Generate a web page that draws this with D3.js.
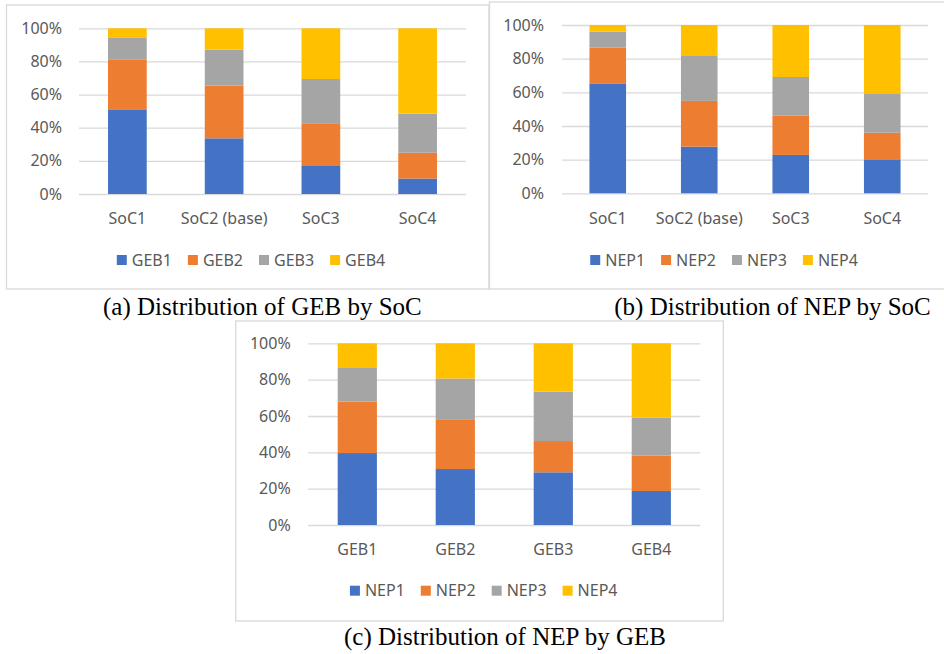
<!DOCTYPE html>
<html>
<head>
<meta charset="utf-8">
<script src="https://cdn.jsdelivr.net/npm/d3@7"></script>
<style>
  body { margin: 0; background: #fff; }
  svg { display: block; }
  .tick text { fill: #595959; font-family: "Noto Sans", sans-serif; font-size: 16px; }
  .legend text { fill: #595959; font-family: "Noto Sans", sans-serif; font-size: 16px; }
  .caption { fill: #000; font-family: "Liberation Serif", "Times New Roman", serif; font-size: 25px; }
</style>
</head>
<body>
<script>
// categories + series
var socCats = ["SoC1", "SoC2 (base)", "SoC3", "SoC4"];
var gebCats = ["GEB1", "GEB2", "GEB3", "GEB4"];
var gebKeys = ["GEB1", "GEB2", "GEB3", "GEB4"];
var nepKeys = ["NEP1", "NEP2", "NEP3", "NEP4"];
var yTicks = [0, 0.2, 0.4, 0.6, 0.8, 1];

// (a) share of GEB per SoC, %, one row per category
var gebBySoc = [
  [51.1, 30.2, 12.9, 5.8],
  [33.6, 31.8, 21.7, 12.9],
  [16.9, 25.8, 26.7, 30.6],
  [9.3, 15.6, 23.6, 51.5]
];
// (b) share of NEP per SoC
var nepBySoc = [
  [65.0, 21.5, 9.5, 4.0],
  [27.7, 27.2, 27.1, 18.0],
  [22.8, 23.5, 22.8, 30.9],
  [19.8, 16.2, 23.0, 41.0]
];
// (c) share of NEP per GEB
var nepByGeb = [
  [39.6, 28.3, 18.5, 13.6],
  [30.8, 27.4, 22.4, 19.4],
  [29.0, 17.2, 27.2, 26.6],
  [18.7, 19.5, 20.9, 40.9]
];

var colors = ["#4472C4", "#ED7D31", "#A5A5A5", "#FFC000"];

var svg = d3.select("body").append("svg")
    .attr("width", 944)
    .attr("height", 654);

function drawPanel(p) {
  // frame
  svg.append("rect")
      .attr("x", p.box[0]).attr("y", p.box[1])
      .attr("width", p.box[2]).attr("height", p.box[3])
      .attr("fill", "#fff")
      .attr("stroke", "#d9d9d9")
      .attr("stroke-width", 1.3);

  var g = svg.append("g")
      .attr("transform", "translate(" + p.left + "," + p.top + ")");

  var x = d3.scaleBand().domain(p.cats).range([0, p.width]).paddingInner(0.6).paddingOuter(0.3);
  var y = d3.scaleLinear().domain([0, 1]).range([p.height, 0]);

  var rows = p.values.map(function(v, i) {
    var o = { cat: p.cats[i] };
    p.keys.forEach(function(k, j) { o[k] = v[j] / d3.sum(v); });
    return o;
  });
  var stack = d3.stack().keys(p.keys)(rows);

  g.append("g")
      .attr("class", "y axis")
      .call(d3.axisLeft(y).tickValues(yTicks).tickFormat(d3.format(".0%"))
        .tickSize(-p.width).tickPadding(p.yPad))
      .call(function(s) { s.select(".domain").remove(); })
      .call(function(s) { s.selectAll("line").attr("stroke", "#d9d9d9").attr("stroke-width", 1.3); });

  g.selectAll(".series")
      .data(stack)
    .enter().append("g")
      .attr("fill", function(d, i) { return colors[i]; })
    .selectAll("rect")
      .data(function(d) { return d; })
    .enter().append("rect")
      .attr("x", function(d) { return x(d.data.cat); })
      .attr("width", x.bandwidth())
      .attr("y", function(d) { return y(d[1]); })
      .attr("height", function(d) { return y(d[0]) - y(d[1]); });

  g.append("g")
      .attr("class", "x axis")
      .attr("transform", "translate(0," + p.height + ")")
      .call(d3.axisBottom(x).tickSize(0).tickPadding(p.xPad))
      .call(function(s) { s.select(".domain").remove(); });

  // legend
  var lg = svg.append("g").attr("class", "legend");
  var items = lg.selectAll("g").data(p.keys).enter().append("g");
  items.append("rect")
      .attr("width", 10).attr("height", 10)
      .attr("y", -5)
      .attr("fill", function(d, i) { return colors[i]; });
  items.append("text")
      .attr("x", 15)
      .attr("dy", "0.36em")
      .text(function(d) { return d; });
  var pos = 0;
  items.each(function() {
    d3.select(this).attr("transform", "translate(" + pos + ",0)");
    pos += 15 + this.querySelector("text").getComputedTextLength() + 16;
  });
  pos -= 16;
  lg.attr("transform", "translate(" + (p.legendCx - pos / 2) + "," + p.legendY + ")");

  svg.append("text")
      .attr("class", "caption")
      .attr("x", p.capX).attr("y", p.capY)
      .attr("text-anchor", "middle")
      .text(p.caption);
}

drawPanel({
  box: [6.5, 5, 482.5, 284], left: 79, top: 28.3, width: 387, height: 165.7,
  cats: socCats, keys: gebKeys, values: gebBySoc, yPad: 17, xPad: 18.6,
  legendCx: 251, legendY: 260, capX: 262.4, capY: 315,
  caption: "(a) Distribution of GEB by SoC"
});
drawPanel({
  box: [489.5, 2, 470, 287], left: 562, top: 25, width: 366, height: 168.3,
  cats: socCats, keys: nepKeys, values: nepBySoc, yPad: 18, xPad: 19.3,
  legendCx: 724, legendY: 260, capX: 772.5, capY: 315,
  caption: "(b) Distribution of NEP by SoC"
});
drawPanel({
  box: [235.7, 321, 487.6, 300], left: 308.3, top: 343.3, width: 392, height: 181.7,
  cats: gebCats, keys: nepKeys, values: nepByGeb, yPad: 17.6, xPad: 18.6,
  legendCx: 483.7, legendY: 590.7, capX: 505, capY: 645,
  caption: "(c) Distribution of NEP by GEB"
});
</script>
</body>
</html>
